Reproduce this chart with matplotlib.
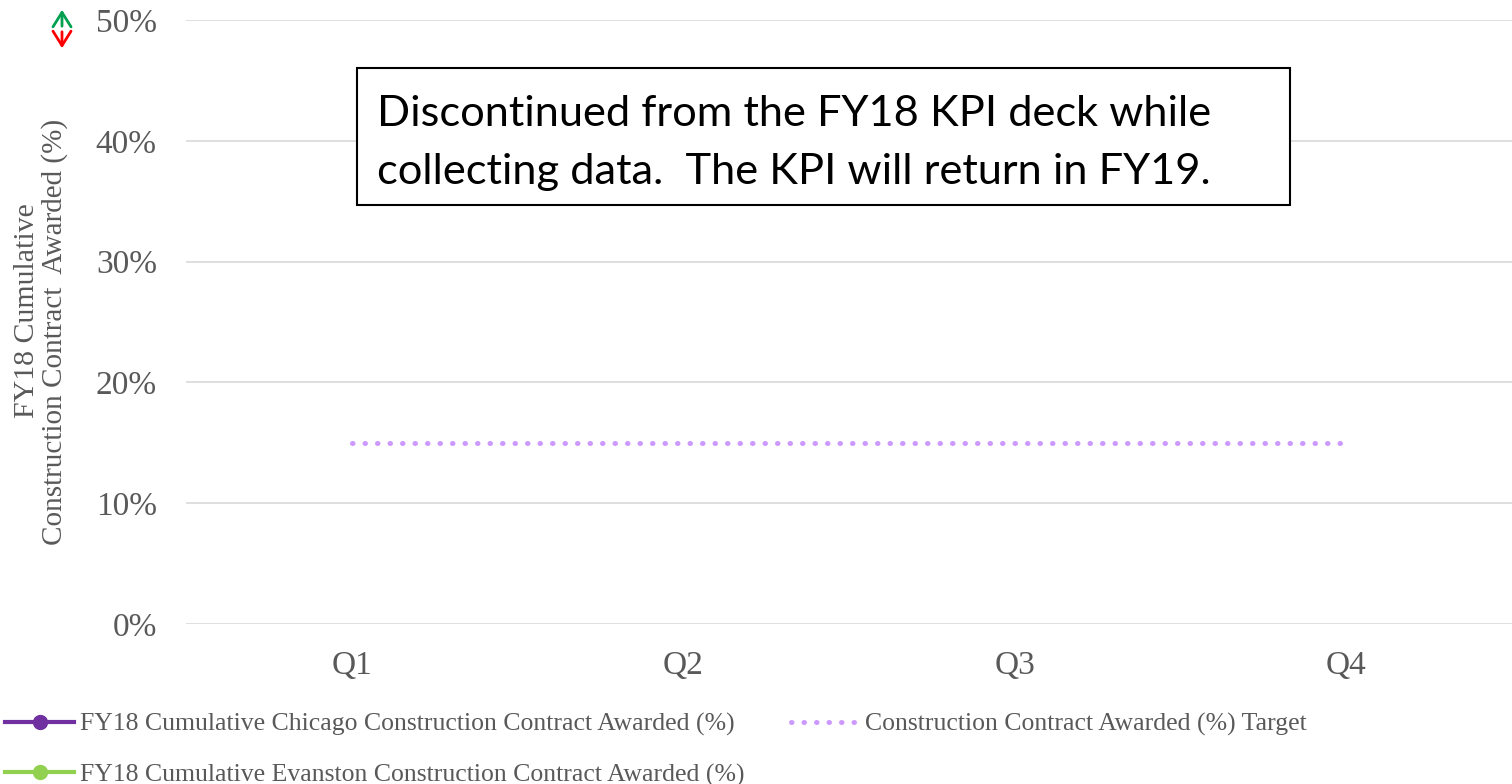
import numpy as np
import matplotlib
matplotlib.use('Agg')
import matplotlib.pyplot as plt
from matplotlib.patches import FancyArrowPatch, Rectangle

# chart data
quarters = ['Q1', 'Q2', 'Q3', 'Q4']
chicago = [np.nan, np.nan, np.nan, np.nan]     # no data reported
evanston = [np.nan, np.nan, np.nan, np.nan]    # no data reported
target = [15, 15, 15, 15]
yticks = [0, 10, 20, 30, 40, 50]
note = 'Discontinued from the FY18 KPI deck while\ncollecting data.  The KPI will return in FY19.'

plt.rcParams['font.family'] = ['Liberation Serif', 'DejaVu Serif']
txtc = '#595959'
W, H = 1512, 784

fig = plt.figure(figsize=(15.12, 7.84), dpi=100)
ax = fig.add_axes([186/W, 1-624/H, 1-186/W, (624-20)/H])

x = np.arange(len(quarters))
ax.plot(x, chicago, color='#7030A0', lw=3, marker='o', ms=10,
        label='FY18 Cumulative Chicago Construction Contract Awarded (%)')
ax.plot(x, evanston, color='#92D050', lw=3, marker='o', ms=10,
        label='FY18 Cumulative Evanston Construction Contract Awarded (%)')
ax.plot(x, target, color='#CC99FF', lw=3.6, linestyle=(0, (0.1, 2.4)),
        dash_capstyle='round', label='Construction Contract Awarded (%) Target')

ax.set_xlim(-0.5, 3.5)
ax.set_ylim(0, 50)
ax.set_xticks(x)
ax.set_xticklabels(quarters)
ax.set_yticks(yticks)
ax.set_yticklabels([str(v) + '%' for v in yticks])
ax.tick_params(axis='both', length=0, labelsize=24, colors=txtc)
ax.tick_params(axis='x', pad=19)
ax.tick_params(axis='y', pad=21)
for s in ax.spines.values():
    s.set_visible(False)
ax.grid(axis='y', color='#D9D9D9', lw=1.2)
ax.set_axisbelow(True)

# y axis title, two lines
fig.text(27/W, 1-311/H, 'FY18 Cumulative', rotation=90, ha='center', va='center',
         fontsize=21.5, color=txtc)
fig.text(55/W, 1-332/H, 'Construction Contract  Awarded (%)', rotation=90,
         ha='center', va='center', fontsize=21, color=txtc)

# note box
fig.patches.append(Rectangle((357/W, 1-205/H), (1290-357)/W, (205-68)/H,
                             transform=fig.transFigure, fc='white', ec='black', lw=1.5))
fig.text(377/W, 1-143/H, note, ha='left', va='center', fontsize=31.2,
         family='Lato', color='black', linespacing=1.62)

# up/down arrow marker top left
fig.patches.append(FancyArrowPatch(
    (62/W, 1-29/H), (62/W, 1-7/H), transform=fig.transFigure,
    arrowstyle='->,head_width=5,head_length=8', color='#00A050', lw=2, mutation_scale=1.3))
fig.patches.append(FancyArrowPatch(
    (62/W, 1-29/H), (62/W, 1-51/H), transform=fig.transFigure,
    arrowstyle='->,head_width=5,head_length=8', color='#FF0000', lw=2, mutation_scale=1.3))

fig.legend(loc='upper left', bbox_to_anchor=(5/W, 1-713/H), ncol=2,
           frameon=False, fontsize=18.5, handlelength=2.7, handletextpad=0.2,
           columnspacing=1.82, labelspacing=1.05, borderaxespad=0, borderpad=0,
           labelcolor=txtc)

fig.savefig('out.png', dpi=100)
